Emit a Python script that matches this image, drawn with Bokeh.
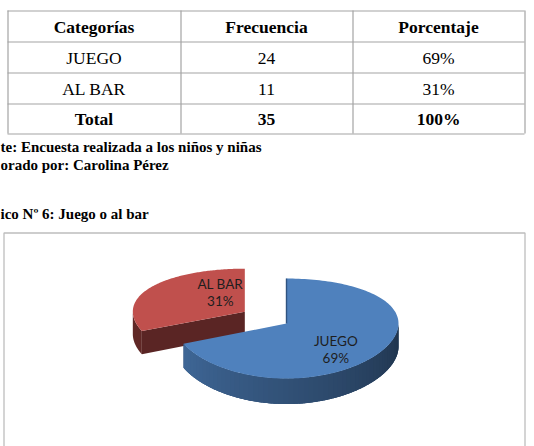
import numpy as np
from bokeh.plotting import figure
from bokeh.models import Range1d
from bokeh.core.properties import value
from bokeh.embed import file_html
from bokeh.resources import INLINE

# ---------------- data ----------------
encabezados = ["Categorías", "Frecuencia", "Porcentaje"]
categorias = ["JUEGO", "AL BAR"]
frecuencia = [24, 11]
etiqueta_total = "Total"
linea_fuente = "te: Encuesta realizada a los niños y niñas"
linea_elaborado = "orado por: Carolina Pérez"
linea_grafico = "ico Nº 6: Juego o al bar"

total = sum(frecuencia)
porcentajes = [round(100 * f / total) for f in frecuencia]
pct_labels = [f"{v}%" for v in porcentajes]

# ---------------- page ----------------
W, H_PAGE = 534, 446
p = figure(width=W, height=H_PAGE, x_range=Range1d(0, W), y_range=Range1d(H_PAGE, 0),
           output_backend="svg", toolbar_location=None, min_border=0,
           x_axis_location=None, y_axis_location=None,
           outline_line_color=None, background_fill_color="white",
           border_fill_color="white")
p.grid.visible = False

SERIF = "Liberation Serif"

# ---------------- table ----------------
col_x = [7, 180, 352, 524]
row_y = [10, 41, 72, 103, 133]
x0s, y0s, x1s, y1s = [], [], [], []
for y in row_y:
    x0s.append(col_x[0]); x1s.append(col_x[-1]); y0s.append(y + 0.5); y1s.append(y + 0.5)
for x in col_x:
    x0s.append(x + 0.5); x1s.append(x + 0.5); y0s.append(row_y[0]); y1s.append(row_y[-1])
p.segment(x0=x0s, y0=y0s, x1=x1s, y1=y1s, line_color="#A3A3A3", line_width=1.2)

col_c = [(col_x[i] + col_x[i + 1]) / 2 for i in range(3)]
base = [r - 14.5 for r in row_y[1:]]

rows = [encabezados] + [[c, str(f), s] for c, f, s in zip(categorias, frecuencia, pct_labels)] \
    + [[etiqueta_total, str(total), "100%"]]
bold_rows = {0, len(rows) - 1}
for ri, row in enumerate(rows):
    p.text(x=col_c, y=[base[ri]] * 3, text=row, text_font=value(SERIF),
           text_font_size="17.5px", text_font_style="bold" if ri in bold_rows else "normal",
           text_align="center", text_baseline="alphabetic", text_color="black")

# captions
p.text(x=[0, 0, 0], y=[146, 164, 213], text=[linea_fuente, linea_elaborado, linea_grafico],
       text_font=value(SERIF), text_font_size="15px", text_font_style="bold",
       text_align="left", text_baseline="alphabetic", text_color="black")

# chart box
p.quad(left=[3.5], right=[524.5], top=[232.5], bottom=[470], fill_color="white",
       line_color="#BDBDBD", line_width=1.3)

# ---------------- 3D pie ----------------
CX, CY, R, RY, PERSP, DEPTH = 286, 323, 112, 49.5, 0.10, 23
explode = [0.0, 0.446]
top_colors = ["#4F81BD", "#C0504D"]
label_polar = [(-48.6, 0.666), (117.7, 0.47)]


def proj(X, Y, z):
    X = np.asarray(X, float)
    Y = np.asarray(Y, float)
    w = 1 + PERSP * Y
    return CX + R * X, CY - RY * Y / w + DEPTH * z / w


def rgb(hexc):
    hexc = hexc.lstrip("#")
    return np.array([int(hexc[i:i + 2], 16) for i in (0, 2, 4)], float)


def to_hex(c):
    c = np.clip(c, 0, 255).astype(int)
    return "#%02x%02x%02x" % tuple(c)


fracs = np.array(frecuencia, float) / total
ends = 90 - 360 * np.concatenate([[0], np.cumsum(fracs)])
slices = []
for i in range(len(frecuencia)):
    a1, a0 = ends[i], ends[i + 1]  # ccw a0 < a1
    mid = np.radians((a0 + a1) / 2)
    ox, oy = explode[i] * np.cos(mid), explode[i] * np.sin(mid)
    slices.append((a0, a1, ox, oy))

order = sorted(range(len(slices)), key=lambda k: -(slices[k][3]))  # back first


def band(ox, oy, lo, hi, n=40):
    th = np.radians(np.linspace(lo, hi, n))
    X = ox + np.cos(th); Y = oy + np.sin(th)
    tx, ty = proj(X, Y, 0); bx, by = proj(X, Y, 1)
    return [float(v) for v in list(tx) + list(bx[::-1])], [float(v) for v in list(ty) + list(by[::-1])]


labels_x, labels_y, labels_t = [], [], []
for i in order:
    a0, a1, ox, oy = slices[i]
    base_c = rgb(top_colors[i])
    side_xs, side_ys, side_cols = [], [], []
    for k in (-1, 0, 1):
        lo, hi = max(a0, 360 * k - 180), min(a1, 360 * k)
        if hi <= lo:
            continue
        bxs, bys = band(ox, oy, lo, hi, 120)
        side_xs.append(bxs); side_ys.append(bys)
        side_cols.append(to_hex(base_c * (0.62 if i == 0 else 0.5)))
        if i == 0:
            n = 60
            edges = np.linspace(lo, hi, n + 1)
            step = edges[1] - edges[0]
            for j in range(n):
                s0, s1 = edges[j], min(edges[j + 1] + 0.8 * step, hi)
                sx, sy = band(ox, oy, s0, s1, 6)
                ang = (edges[j] + edges[j + 1]) / 2 - 360 * k
                f = 0.86 - 0.46 * (ang + 180) / 180
                side_xs.append(sx); side_ys.append(sy); side_cols.append(to_hex(base_c * f))
    for edge, nang in ((a1, a1 + 90), (a0, a0 - 90)):
        if np.sin(np.radians(nang)) < -1e-6:
            X = [ox, ox + np.cos(np.radians(edge))]
            Y = [oy, oy + np.sin(np.radians(edge))]
            tx, ty = proj(X, Y, 0); bx, by = proj(X, Y, 1)
            side_xs.append([float(tx[0]), float(tx[1]), float(bx[1]), float(bx[0])])
            side_ys.append([float(ty[0]), float(ty[1]), float(by[1]), float(by[0])])
            side_cols.append(to_hex(base_c * 0.47))
    p.patches(xs=side_xs, ys=side_ys, fill_color=side_cols, line_color=None)
    th = np.radians(np.linspace(a0, a1, 160))
    X = np.concatenate([[ox], ox + np.cos(th)])
    Y = np.concatenate([[oy], oy + np.sin(th)])
    tx, ty = proj(X, Y, 0)
    p.patch(x=[float(v) for v in tx], y=[float(v) for v in ty], fill_color=top_colors[i],
            line_color=None)
    la, lr = label_polar[i]
    lx, ly = proj(ox + lr * np.cos(np.radians(la)), oy + lr * np.sin(np.radians(la)), 0)
    labels_x += [float(lx), float(lx)]
    labels_y += [float(ly) - 8.5, float(ly) + 8.5]
    labels_t += [categorias[i], pct_labels[i]]

a0, a1, ox, oy = slices[0]
ex, ey = proj([ox, ox + np.cos(np.radians(a1))], [oy, oy + np.sin(np.radians(a1))], 0)
p.line(x=[float(v) for v in ex], y=[float(v) for v in ey], line_color="#2F5380", line_width=1.4)

p.text(x=labels_x, y=labels_y, text=labels_t, text_font=value("Lato"),
       text_font_size="13.5px", text_align="center", text_baseline="middle",
       text_color="#1E1E1E")

open("out.html", "w").write(file_html(p, INLINE))
